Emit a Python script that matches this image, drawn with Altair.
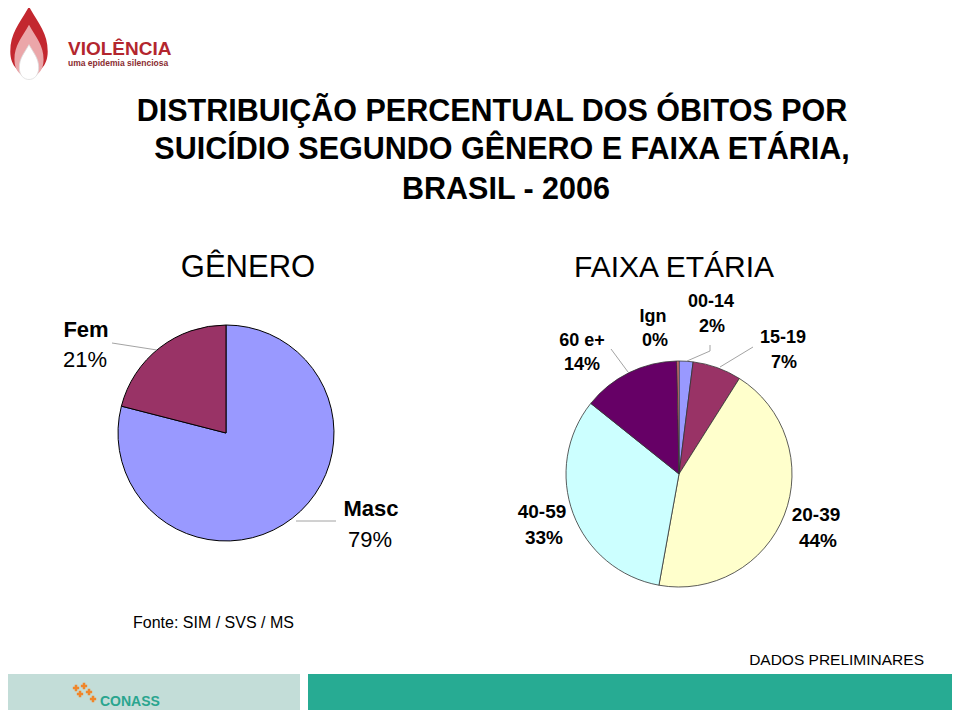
import altair as alt
import pandas as pd

# ---- data ----
gender_cats = ["Masc", "Fem"]
gender_vals = [79, 21]
gender_colors = ["#9999FF", "#993366"]

age_cats = ["00-14", "15-19", "20-39", "40-59", "60 e+", "Ign"]
age_vals = [2, 7, 44, 33, 14, 0.3]
age_colors = ["#9999FF", "#993366", "#FFFFCC", "#CCFFFF", "#660066", "#FF8080"]

title_lines = ["DISTRIBUIÇÃO PERCENTUAL DOS ÓBITOS POR",
               "SUICÍDIO SEGUNDO GÊNERO E FAIXA ETÁRIA,",
               "BRASIL - 2006"]

gdf = pd.DataFrame({"cat": gender_cats, "val": gender_vals, "idx": range(len(gender_cats))})
adf = pd.DataFrame({"cat": age_cats, "val": age_vals, "idx": range(len(age_cats))})

O = 8  # page margin offset
W, H = 944, 702

SANS = "Liberation Sans, Arial, Helvetica, sans-serif"

one = alt.Data(values=[{}])


def txt(s, x, y, size, weight="normal", color="black", align="center", font=SANS, baseline="alphabetic"):
    return alt.Chart(one).mark_text(
        text=s, fontSize=size, fontWeight=weight, color=color, align=align,
        baseline=baseline, font=font
    ).encode(x=alt.value(x - O), y=alt.value(y - O))


def rule(x1, y1, x2, y2, color="#8c8c8c", w=0.8):
    return alt.Chart(one).mark_rule(color=color, strokeWidth=w).encode(
        x=alt.value(x1 - O), y=alt.value(y1 - O), x2=alt.value(x2 - O), y2=alt.value(y2 - O))


def rect(x1, y1, x2, y2, color):
    return alt.Chart(one).mark_rect(color=color).encode(
        x=alt.value(x1 - O), y=alt.value(y1 - O), x2=alt.value(x2 - O), y2=alt.value(y2 - O))


def sym(shape, x, y, size, color, stroke=None, sw=0):
    kw = dict(shape=shape, size=size, filled=True, color=color, opacity=1)
    if stroke:
        kw.update(stroke=stroke, strokeWidth=sw)
    return alt.Chart(one).mark_point(**kw).encode(x=alt.value(x - O), y=alt.value(y - O))


# ---- pies ----
gender_pie = alt.Chart(gdf).mark_arc(outerRadius=108, stroke="black", strokeWidth=1).encode(
    theta=alt.Theta("val:Q", stack=True),
    color=alt.Color("cat:N", scale=alt.Scale(domain=gender_cats, range=gender_colors), legend=None),
    order=alt.Order("idx:Q"),
    x=alt.value(226 - O), y=alt.value(433 - O),
)

age_pie = alt.Chart(adf).mark_arc(outerRadius=113, stroke="#333333", strokeWidth=0.8).encode(
    theta=alt.Theta("val:Q", stack=True),
    color=alt.Color("cat:N", scale=alt.Scale(domain=age_cats, range=age_colors), legend=None),
    order=alt.Order("idx:Q"),
    x=alt.value(679 - O), y=alt.value(474 - O),
)

pies = alt.layer(gender_pie, age_pie).resolve_scale(theta="independent", color="independent")

# ---- labels ----
labels = [
    txt("Fem", 86, 337, 22, "bold"), txt(f"{gender_vals[1]}%", 85, 367, 22),
    txt("Masc", 371, 516, 22, "bold"), txt(f"{gender_vals[0]}%", 370, 547, 22),
    txt("60 e+", 582, 346, 18, "bold"), txt(f"{age_vals[4]}%", 582, 370, 18, "bold"),
    txt("Ign", 653, 322, 18, "bold"), txt("0%", 655, 346, 18, "bold"),
    txt("00-14", 711, 307, 18, "bold"), txt(f"{age_vals[0]}%", 712, 332, 18, "bold"),
    txt("15-19", 783, 343, 18, "bold"), txt(f"{age_vals[1]}%", 784, 368, 18, "bold"),
    txt("40-59", 542, 518, 19, "bold"), txt(f"{age_vals[3]}%", 544, 544, 19, "bold"),
    txt("20-39", 816, 521, 19, "bold"), txt(f"{age_vals[2]}%", 818, 547, 19, "bold"),
]

leaders = [
    rule(112, 343, 157, 350),
    rule(296, 521, 336, 521),
    rule(611, 349, 628, 372),
    rule(710, 345, 710, 351), rule(710, 351, 687, 361),
    rule(753, 347, 720, 367),
]

titles = [
    txt(title_lines[0], 492, 121, 30.5, "bold"),
    txt(title_lines[1], 502, 159, 30.5, "bold"),
    txt(title_lines[2], 506, 199, 30.5, "bold"),
    txt("GÊNERO", 248, 277, 31),
    txt("FAIXA ETÁRIA", 674, 277, 30),
    txt("Fonte: SIM / SVS / MS", 133, 628, 16, align="left"),
    txt("DADOS PRELIMINARES", 924, 665, 15.5, align="right"),
]

# ---- decorations (logos and footer bands) ----
drop = "M0,-1 C0.25,-0.55 0.5,-0.3 0.5,0.2 C0.5,0.6 0.25,0.8 0,0.8 C-0.25,0.8 -0.5,0.6 -0.5,0.2 C-0.5,-0.3 -0.25,-0.55 0,-1 Z"
deco = [
    rect(3, 674, 300, 716, "#C3DDD8"),
    rect(308, 674, 960, 716, "#27AB93"),
    sym(drop, 29, 44, 5600, "#C3272F"),
    sym(drop, 29, 54, 3400, "#EBA6A9"),
    sym(drop, 29, 64, 1500, "white", stroke="#dddddd", sw=0.8),
    txt("VIOLÊNCIA", 68, 55, 19, "bold", color="#B3262E", align="left"),
    txt("uma epidemia silenciosa", 68, 66, 8.5, "bold", color="#8A2C31", align="left"),
    sym("cross", 76, 688, 40, "#F0862A"),
    sym("cross", 84, 686, 40, "#F0862A"),
    sym("cross", 80, 694, 40, "#F0862A"),
    sym("cross", 89, 692, 40, "#F0862A"),
    sym("cross", 93, 699, 40, "#F0862A"),
    txt("CONASS", 100, 706, 14, "bold", color="#2AA58F", align="left"),
]

chart = alt.layer(pies, *labels, *leaders, *titles, *deco).properties(
    width=W, height=H, padding=0, autosize="none"
).configure_view(stroke=None)

chart.save("out.html", embed_options={"renderer": "svg", "actions": False})
